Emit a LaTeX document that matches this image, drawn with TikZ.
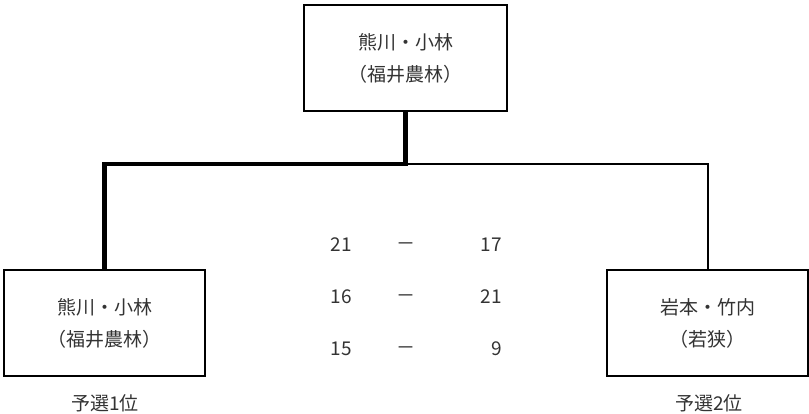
\documentclass[tikz,border=0pt]{standalone}
\usepackage{fontspec}
\setmainfont{Noto Sans CJK JP}
\usetikzlibrary{positioning}

\begin{document}
\begin{tikzpicture}[x=1pt, y=-1pt,
  every node/.style={font=\fontsize{19}{32}\selectfont, text=black!80},
  team/.style={draw=black, line width=2pt, minimum width=201pt, minimum height=106pt, align=center, inner sep=0pt},
  score/.style={inner sep=0pt}]
  \useasboundingbox (0,0) rectangle (809,414);
  % teams
  \node[team, minimum width=203pt] (W) at (405.5,58) {熊川・小林\\（福井農林）}; % winner
  \node[team] (L) at (104.5,323) {熊川・小林\\（福井農林）}; % left
  \node[team] (R) at (707.5,323) {岩本・竹内\\（若狭）}; % right
  \coordinate (J) at (405.5,164); % junction

  % bracket lines
  \draw[line width=2pt] (J) -| (R.north);  % right thin
  \draw[line width=4.5pt] (W.south) -- (J) -| (L.north); % winner path

  % scores
  \foreach \a/\b/\y in {21/17/245, 16/21/297, 15/9/349} {
    \node[score] (a\y) at (341,\y) {\a};
    \node[score] (d\y) at (405.5,\y+2) {－};
    \node[score, anchor=east] (b\y) at (502,\y) {\b};
  }

  % ranks
  \node (p1) at (105,403) {予選1位};
  \node (p2) at (709,403) {予選2位};
\end{tikzpicture}
\end{document}
